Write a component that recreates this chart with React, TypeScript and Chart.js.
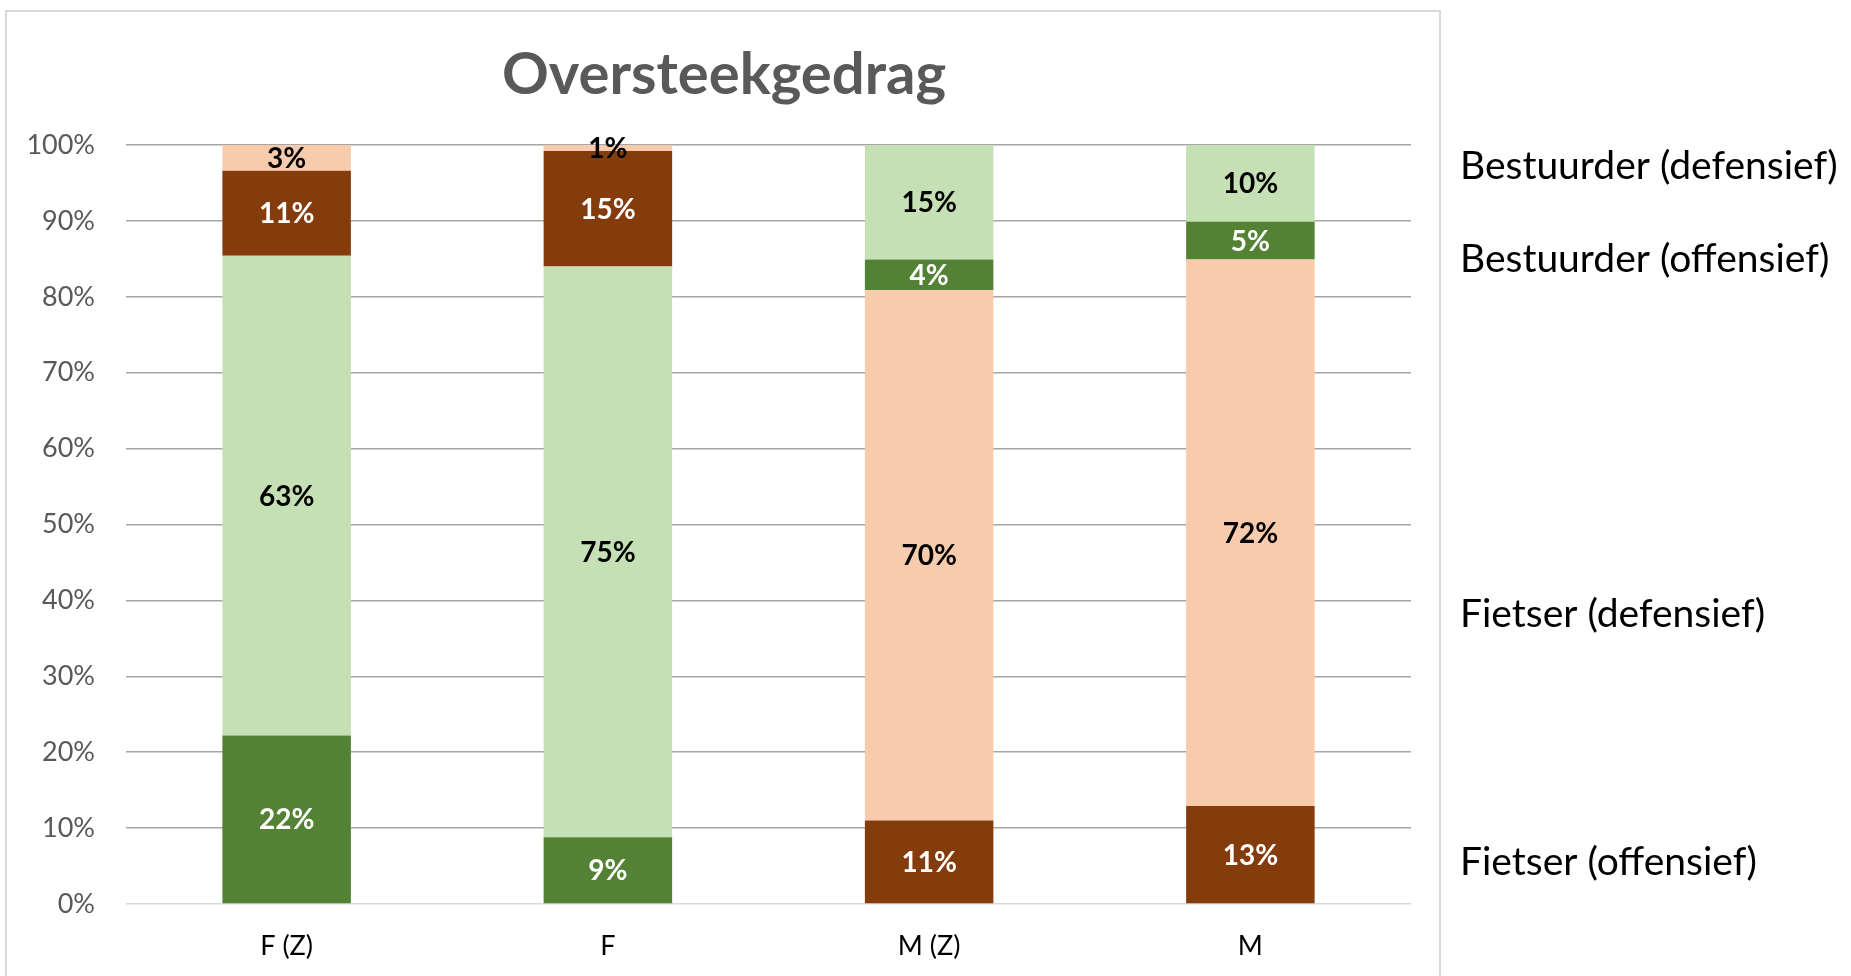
import React, { useEffect, useRef } from 'react';
import { Chart, registerables } from 'chart.js';

Chart.register(...registerables);

const categories = ['F (Z)', 'F', 'M (Z)', 'M'];
const fietserOffensief = [22.2, 8.8, 11.0, 12.9];
const fietserDefensief = [63.2, 75.2, 69.9, 72.0];
const bestuurderOffensief = [11.2, 15.2, 4.0, 5.0];
const bestuurderDefensief = [3.4, 0.8, 15.1, 10.1];
const yTickValues = [0, 10, 20, 30, 40, 50, 60, 70, 80, 90, 100];
const chartTitle = 'Oversteekgedrag';
const sideLabels = ['Bestuurder (defensief)', 'Bestuurder (offensief)', 'Fietser (defensief)', 'Fietser (offensief)'];
const sideLabelBaselines = [179, 272, 627, 875];

const DG = '#548235';
const LG = '#c5e0b4';
const BR = '#843c0c';
const PE = '#f8cbad';
const FONT = 'Lato, "Open Sans", sans-serif';

const W = 1851;
const H = 976;

const decorPlugin = {
  id: 'decor',
  beforeDraw(chart: any) {
    const ctx = chart.ctx;
    ctx.save();
    ctx.fillStyle = '#ffffff';
    ctx.fillRect(0, 0, W, H);
    ctx.strokeStyle = '#d9d9d9';
    ctx.lineWidth = 2;
    ctx.strokeRect(6, 11, 1434, 1000);
    ctx.restore();
  },
  afterDraw(chart: any) {
    const ctx = chart.ctx;
    ctx.save();
    ctx.fillStyle = '#595959';
    ctx.font = `bold 58px ${FONT}`;
    ctx.textAlign = 'center';
    ctx.textBaseline = 'alphabetic';
    ctx.fillText(chartTitle, 724, 94);
    ctx.fillStyle = '#000000';
    ctx.font = `39px ${FONT}`;
    ctx.textAlign = 'left';
    sideLabels.forEach((t, i) => ctx.fillText(t, 1460, sideLabelBaselines[i]));
    ctx.restore();
  },
};

const labelPlugin = {
  id: 'segLabels',
  afterDatasetsDraw(chart: any) {
    const ctx = chart.ctx;
    ctx.save();
    ctx.font = `bold 28px ${FONT}`;
    ctx.textAlign = 'center';
    ctx.textBaseline = 'alphabetic';
    chart.data.datasets.forEach((ds: any, i: number) => {
      const meta = chart.getDatasetMeta(i);
      meta.data.forEach((el: any, j: number) => {
        const { x, y, base } = el.getProps(['x', 'y', 'base'], true);
        const bg = ds.backgroundColor[j];
        ctx.fillStyle = bg === DG || bg === BR ? '#ffffff' : '#000000';
        const cy = (y + base) / 2;
        ctx.fillText(Math.round(ds.data[j]) + '%', x, cy + 10);
      });
    });
    ctx.restore();
  },
};

export default function App() {
  const ref = useRef<HTMLCanvasElement>(null);
  useEffect(() => {
    if (!ref.current) return;
    Chart.defaults.font.family = FONT;
    const chart = new Chart(ref.current, {
      type: 'bar',
      data: {
        labels: categories,
        datasets: [
          { label: 'Fietser (offensief)', data: fietserOffensief, backgroundColor: [DG, DG, BR, BR] },
          { label: 'Fietser (defensief)', data: fietserDefensief, backgroundColor: [LG, LG, PE, PE] },
          { label: 'Bestuurder (offensief)', data: bestuurderOffensief, backgroundColor: [BR, BR, DG, DG] },
          { label: 'Bestuurder (defensief)', data: bestuurderDefensief, backgroundColor: [PE, PE, LG, LG] },
        ],
      },
      options: {
        animation: false,
        responsive: false,
        layout: { padding: { left: 0, top: 145, right: W - 1411, bottom: 0 } },
        datasets: { bar: { barPercentage: 1, categoryPercentage: 0.4 } },
        plugins: { legend: { display: false }, title: { display: false }, tooltip: { enabled: false } },
        scales: {
          x: {
            stacked: true,
            grid: { display: false, drawTicks: false },
            border: { display: false },
            ticks: { color: '#000000', font: { size: 27, family: FONT }, padding: 26 },
            afterFit: (s: any) => { s.height = 72; },
          },
          y: {
            stacked: true,
            min: 0,
            max: 100,
            afterBuildTicks: (s: any) => { s.ticks = yTickValues.map((v) => ({ value: v })); },
            ticks: {
              color: '#595959',
              font: { size: 27, family: FONT },
              padding: 31,
              callback: (v: any) => v + '%',
            },
            grid: {
              drawTicks: false,
              lineWidth: 1.5,
              color: (c: any) => (c.tick && c.tick.value === 0 ? '#d9d9d9' : '#a6a6a6'),
            },
            border: { display: false },
            afterFit: (s: any) => { s.width = 126; },
          },
        },
      },
      plugins: [decorPlugin, labelPlugin],
    });
    return () => chart.destroy();
  }, []);
  return (
    <div style={{ position: 'fixed', left: 0, top: 0, width: W, height: H, background: '#fff' }}>
      <canvas ref={ref} width={W} height={H} style={{ display: 'block' }} />
    </div>
  );
}
